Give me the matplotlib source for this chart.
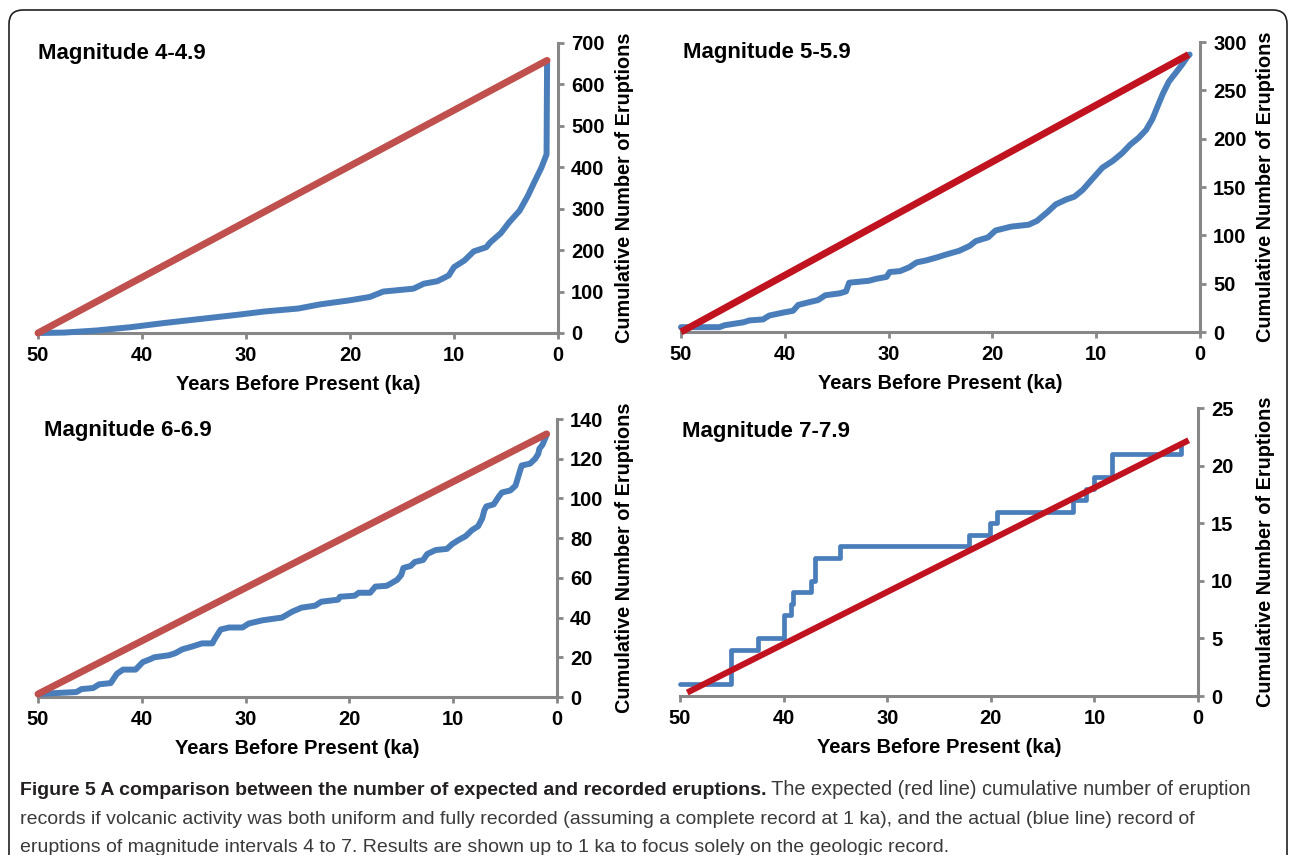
import matplotlib
matplotlib.use('Agg')
import matplotlib.pyplot as plt
import matplotlib.patches as mpatches
import matplotlib.transforms as mtransforms

# panel titles and y scales
titles = ['Magnitude 4-4.9', 'Magnitude 5-5.9', 'Magnitude 6-6.9', 'Magnitude 7-7.9']
y_max = [700, 300, 140, 25]
y_step = [100, 50, 20, 5]
x_ticks = [50, 40, 30, 20, 10, 0]

# expected eruptions (red lines), start and end points
red_x = [[50, 1.05], [50, 1.1], [50, 1.0], [49.3, 0.9]]
red_y = [[0, 658], [0, 287], [1.5, 132.5], [0.3, 22.2]]
red_col = ['#C0504D', '#C0121F', '#C0504D', '#C0121F']

# recorded eruptions (blue lines)
m4_x = [50, 47.5, 44.4, 41.1, 37.9, 34.7, 30.8, 28.2, 25.0, 22.9, 20.0, 18.1, 16.8,
        13.9, 12.9, 11.6, 10.5, 10.0, 9.0, 8.1, 6.9, 6.5, 5.5, 4.7, 3.7, 2.9, 2.3,
        1.6, 1.1, 1.05]
m4_y = [0, 1, 6, 14, 24, 33, 44, 52, 59, 69, 79, 87, 100,
        107, 119, 125, 139, 159, 175, 197, 207, 219, 241, 267, 295, 331, 363,
        399, 431, 655]

m5_x = [50, 46.3, 45.8, 44.0, 43.4, 42.1, 41.5, 40.2, 39.2, 38.7, 37.6, 36.8, 36.1,
        34.7, 34.1, 33.8, 31.9, 31.2, 30.2, 29.9, 28.9, 28.0, 27.3, 26.4, 25.4, 24.5,
        23.2, 22.2, 21.6, 20.4, 19.7, 18.2, 16.5, 15.7, 14.7, 13.9, 12.9, 12.1, 11.3,
        10.4, 9.4, 8.4, 7.5, 6.7, 5.9, 5.2, 4.6, 4.1, 3.6, 3.0, 2.2, 1.7, 1.2, 1.0]
m5_y = [5, 5, 7, 10, 12, 13, 17, 20, 22, 28, 31, 33, 38,
        40, 42, 51, 53, 55, 57, 62, 63, 67, 72, 74, 77, 80,
        84, 89, 94, 98, 105, 109, 111, 115, 124, 132, 137, 140, 147,
        158, 170, 177, 185, 194, 201, 209, 220, 233, 246, 259, 270, 277, 285, 287]

m6_x = [50, 48.2, 46.3, 45.8, 44.7, 44.1, 43.0, 42.4, 41.8, 40.6, 39.9, 39.3, 38.8,
        37.4, 36.8, 36.1, 35.1, 34.2, 33.2, 33.0, 32.4, 31.6, 30.3, 29.7, 28.4, 26.5,
        25.5, 24.6, 23.3, 22.7, 21.1, 20.9, 19.5, 19.1, 18.0, 17.5, 16.4, 15.4, 15.0,
        14.8, 14.1, 13.7, 12.9, 12.5, 11.7, 10.6, 10.1, 9.5, 8.8, 8.2, 7.6, 7.2, 7.0,
        6.8, 6.1, 5.6, 5.3, 4.5, 4.0, 3.5, 3.4, 2.6, 2.1, 1.8, 1.7, 1.4, 1.0]
m6_y = [1.5, 2, 2.5, 4, 4.5, 6.4, 7, 11.7, 13.8, 13.8, 17.6, 18.8, 20,
        21, 22, 24, 25.5, 27, 27, 29, 34, 35, 35, 37, 38.6, 40,
        43, 45, 46, 48, 49, 50.5, 51, 52.5, 52.5, 55.6, 56, 59, 61.5,
        65, 66, 68, 69, 72, 74, 74.6, 77, 79, 81, 84, 86, 90, 94,
        96, 97, 101, 103, 104, 106.4, 115, 116.6, 117.5, 120, 122.5, 125, 127, 132]

m7_x = [50, 45.1, 42.5, 40.0, 39.3, 39.1, 37.4, 37.0, 34.6, 22.1, 20.1, 19.4, 12.1,
        10.8, 10.0, 8.3, 1.6]
m7_y = [1, 4, 5, 7, 8, 9, 10, 12, 13, 14, 15, 16, 17,
        18, 19, 21, 22]

blue_x = [m4_x, m5_x, m6_x, m7_x]
blue_y = [m4_y, m5_y, m6_y, m7_y]

caption_bold = 'Figure 5 A comparison between the number of expected and recorded eruptions.'
caption_lines = [' The expected (red line) cumulative number of eruption',
                 'records if volcanic activity was both uniform and fully recorded (assuming a complete record at 1 ka), and the actual (blue line) record of',
                 'eruptions of magnitude intervals 4 to 7. Results are shown up to 1 ka to focus solely on the geologic record.']

W, H = 1290, 855
plt.rcParams['font.family'] = ['Liberation Sans', 'DejaVu Sans']
fig = plt.figure(figsize=(W / 100, H / 100), dpi=100)

# axes boxes in pixels: left, right, top, bottom
boxes = [(38, 558, 43, 333), (681, 1200, 42, 332), (38, 557, 419, 697), (680, 1198, 408, 696)]
ylabel_x = [615, 1256, 615, 1256]
title_pos = [(0.0, 0.965), (0.004, 0.965), (0.011, 0.96), (0.003, 0.92)]
grey = '#878787'

for i in range(4):
    l, r, t, b = boxes[i]
    ax = fig.add_axes([l / W, (H - b) / H, (r - l) / W, (b - t) / H])
    lw_b = 3.4 if i == 3 else 4.3
    lw_r = 4.4 if i == 3 else 5
    if i == 3:
        ax.plot(blue_x[i], blue_y[i], color='#4A7EBB', lw=lw_b, drawstyle='steps-post',
                solid_capstyle='round', solid_joinstyle='round', clip_on=False, zorder=3)
    else:
        ax.plot(blue_x[i], blue_y[i], color='#4A7EBB', lw=lw_b,
                solid_capstyle='round', solid_joinstyle='round', clip_on=False, zorder=3)
    ax.plot(red_x[i], red_y[i], color=red_col[i], lw=lw_r,
            solid_capstyle='round' if i in (0, 2) else 'butt', clip_on=False, zorder=4)

    ax.set_xlim(50, 0)
    ax.set_ylim(0, y_max[i])
    ax.set_xticks(x_ticks)
    ax.set_yticks(range(0, y_max[i] + 1, y_step[i]))
    for s in ['top', 'left']:
        ax.spines[s].set_visible(False)
    for s in ['right', 'bottom']:
        ax.spines[s].set_color(grey)
        ax.spines[s].set_linewidth(2.2)
    ax.yaxis.tick_right()
    ax.tick_params(axis='both', direction='out', length=4.5, width=2, color=grey,
                   labelsize=14.5, pad=5)
    for lab in ax.get_xticklabels() + ax.get_yticklabels():
        lab.set_fontweight('bold')
    ax.set_xlabel('Years Before Present (ka)', fontsize=14.5, fontweight='bold', labelpad=7)
    ax.yaxis.set_label_position('right')
    ax.set_ylabel('Cumulative Number of Eruptions', fontsize=14.3, fontweight='bold')
    ax.yaxis.set_label_coords((ylabel_x[i] - l) / (r - l), 0.5)
    ax.text(title_pos[i][0], title_pos[i][1], titles[i], transform=ax.transAxes,
            fontsize=16, fontweight='bold', ha='left', va='center')

# rounded frame round the figure
frame = mpatches.FancyBboxPatch((9, -40), 1278, H - 10 + 40, boxstyle='round,pad=0,rounding_size=14',
                                transform=mtransforms.IdentityTransform(), fill=False,
                                edgecolor='#231F20', lw=1.2)
fig.patches.append(frame)

# caption
t1 = fig.text(20 / W, 1 - 795 / H, caption_bold, fontsize=14,
              fontweight='bold', color='#231F20', va='baseline')
fig.canvas.draw()
bb = t1.get_window_extent(fig.canvas.get_renderer())
fig.text(bb.x1 / W, 1 - 795 / H, caption_lines[0], fontsize=14.4,
         color='#3A3A3A', va='baseline')
fig.text(20 / W, 1 - 824 / H, caption_lines[1], fontsize=14,
         color='#3A3A3A', va='baseline')
fig.text(20 / W, 1 - 852 / H, caption_lines[2], fontsize=14,
         color='#3A3A3A', va='baseline')

fig.savefig('out.png', dpi=100)
